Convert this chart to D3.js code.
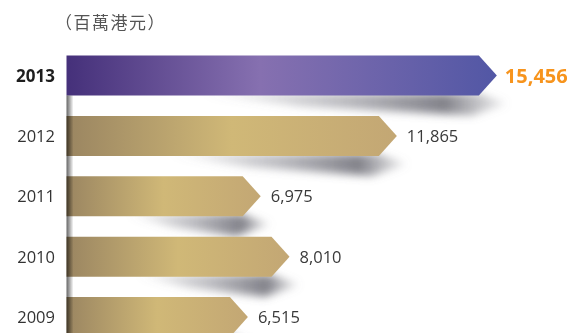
<!DOCTYPE html>
<html>
<head>
<meta charset="utf-8">
<script src="https://cdn.jsdelivr.net/npm/d3@7"></script>
<style>
  html, body { margin: 0; padding: 0; background: #fff; }
  svg { display: block; }
</style>
</head>
<body>
<svg id="chart" width="572" height="333"></svg>
<script>
// Annual figures, HK$ million
const years = ["2013", "2012", "2011", "2010", "2009"];
const values = [15456, 11865, 6975, 8010, 6515];
const valueLabels = ["15,456", "11,865", "6,975", "8,010", "6,515"];
const unitLabel = "（百萬港元）";
const highlightYear = "2013";

const W = 572, H = 333;
const svg = d3.select("#chart");
const defs = svg.append("defs");

const x = d3.scaleLinear().domain([0, 16000]).range([66.5, 512]);
const y = d3.scaleBand().domain(years).range([55.5, 337.1]).paddingInner(20.4 / 60.4).paddingOuter(0);
const tipDepth = 18;

// gradients
function hGrad(id, stops) {
  const g = defs.append("linearGradient").attr("id", id)
    .attr("x1", 0).attr("x2", 1).attr("y1", 0).attr("y2", 0);
  stops.forEach(([o, c, op]) => g.append("stop").attr("offset", o)
    .attr("stop-color", c).attr("stop-opacity", op == null ? 1 : op));
}
hGrad("gold", [[0, "#9a8561"], [0.5, "#d0b877"], [1, "#c3a774"]]);
hGrad("purple", [[0, "#45307a"], [0.45, "#8670b0"], [1, "#5257a5"]]);
hGrad("shade", [[0, "#70707a", 0], [0.45, "#70707a", 0.45], [0.8, "#62626c", 0.8], [1, "#8a8a90", 0.15]]);
hGrad("edge", [[0, "#666", 1], [0.45, "#aaa", 1], [1, "#fff", 1]]);

const blur = defs.append("filter").attr("id", "soft")
  .attr("x", "-20%").attr("y", "-100%").attr("width", "140%").attr("height", "300%");
blur.append("feGaussianBlur").attr("stdDeviation", 4.5);

const rows = years.map((yr, i) => ({ year: yr, value: values[i], label: valueLabels[i] }));

// cast shadows under each bar
svg.append("g").selectAll("path").data(rows).join("path")
  .attr("d", d => {
    const tip = x(d.value), x0 = x(0), L = tip - x0;
    const yb = y(d.year) + y.bandwidth();
    const xs = x0 + L * 0.3;
    return `M${xs},${yb - 2} L${tip - tipDepth},${yb - 2} L${tip + 10},${yb + 8} L${tip - 25},${yb + 20} L${xs + L * 0.25},${yb + 11} Z`;
  })
  .attr("fill", "url(#shade)")
  .attr("filter", "url(#soft)");

// arrow-shaped bars
svg.append("g").selectAll("path").data(rows).join("path")
  .attr("d", d => {
    const x0 = x(0), tip = x(d.value);
    const t = y(d.year), b = t + y.bandwidth(), m = t + y.bandwidth() / 2;
    return `M${x0},${t} L${tip - tipDepth},${t} L${tip},${m} L${tip - tipDepth},${b} L${x0},${b} Z`;
  })
  .attr("fill", d => d.year === highlightYear ? "url(#purple)" : "url(#gold)");

// shaded left edge running down from the first bar
svg.append("rect")
  .attr("x", x(0)).attr("width", 7)
  .attr("y", y(years[0]) + y.bandwidth()).attr("height", H - (y(years[0]) + y.bandwidth()))
  .attr("fill", "url(#edge)")
  .style("mix-blend-mode", "multiply");

// year labels
svg.append("g").selectAll("text").data(rows).join("text")
  .attr("x", 55)
  .attr("y", d => y(d.year) + y.bandwidth() / 2)
  .attr("dy", "0.36em")
  .attr("text-anchor", "end")
  .attr("font-family", "'Open Sans', sans-serif")
  .attr("font-size", d => d.year === highlightYear ? 17 : 16.5)
  .attr("font-weight", d => d.year === highlightYear ? 700 : 400)
  .attr("fill", d => d.year === highlightYear ? "#1e1e1e" : "#333")
  .text(d => d.year);

// value labels
svg.append("g").selectAll("text").data(rows).join("text")
  .attr("x", d => x(d.value) + (d.year === highlightYear ? 8 : 10))
  .attr("y", d => y(d.year) + y.bandwidth() / 2)
  .attr("dy", "0.36em")
  .attr("font-family", "'Open Sans', sans-serif")
  .attr("font-size", d => d.year === highlightYear ? 20 : 16.5)
  .attr("font-weight", d => d.year === highlightYear ? 700 : 400)
  .attr("fill", d => d.year === highlightYear ? "#f7941d" : "#3a3a3a")
  .text(d => d.label);

// unit caption
svg.append("text")
  .attr("x", 55).attr("y", 29)
  .attr("font-family", "'Noto Sans CJK TC', sans-serif")
  .attr("font-size", 17)
  .attr("letter-spacing", 1.5)
  .attr("fill", "#555")
  .text(unitLabel);
</script>
</body>
</html>
